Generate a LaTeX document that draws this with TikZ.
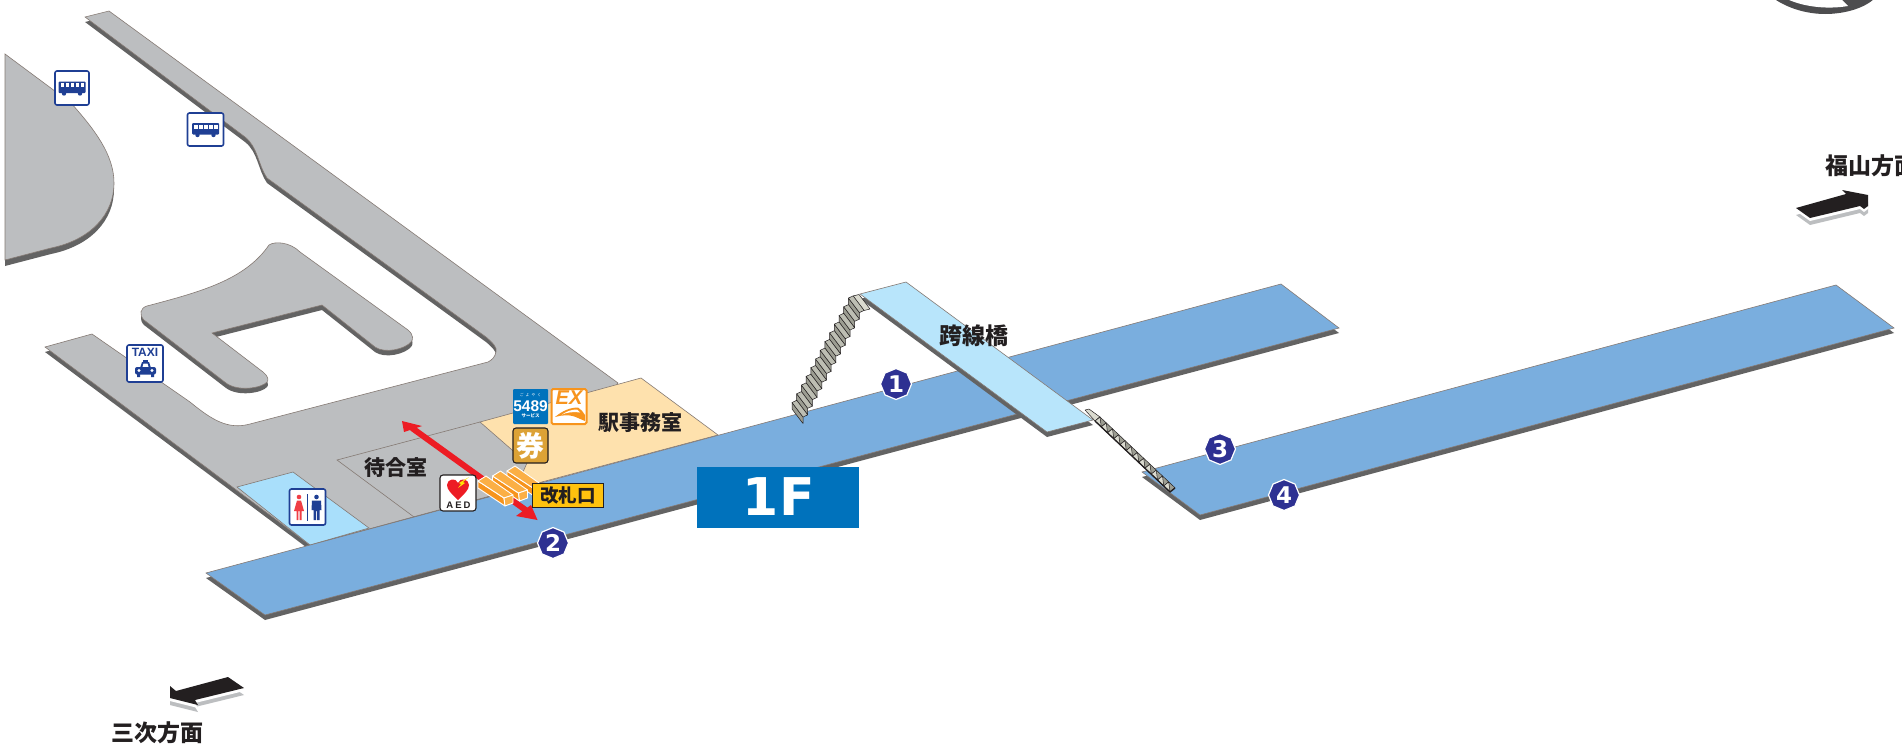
\documentclass[tikz,border=0pt]{standalone}
\usepackage{fontspec}
\usetikzlibrary{shapes.geometric}
\setmainfont{Liberation Sans}
\newfontfamily\cjk{Noto Sans CJK JP}
\newfontfamily\dejavu{DejaVu Sans}
\newcommand\pxsize[1]{\fontsize{#1}{#1}\selectfont}
\definecolor{platblue}{HTML}{7AAEDE}
\definecolor{roadgray}{HTML}{BCBEC0}
\definecolor{shade}{HTML}{636363}
\definecolor{edgeline}{HTML}{857A74}
\definecolor{office}{HTML}{FEE1AD}
\definecolor{bridge}{HTML}{B8E5FB}
\definecolor{wc}{HTML}{A9DFFB}
\definecolor{navy}{HTML}{2E3192}
\definecolor{signblue}{HTML}{1F3F94}
\definecolor{boxblue}{HTML}{0072BC}
\definecolor{arrowred}{HTML}{ED1C24}
\definecolor{exorange}{HTML}{F7941D}
\definecolor{ticket}{HTML}{DCA236}
\definecolor{gateyellow}{HTML}{FFC20E}
\definecolor{gatetop}{HTML}{FBAF45}
\definecolor{inkblack}{HTML}{231F20}
\definecolor{ringgray}{HTML}{4D4D4F}
\definecolor{stairrise}{HTML}{9C9D92}
\definecolor{stairtread}{HTML}{BDBEB3}
\definecolor{stairtop}{HTML}{DADACF}
\tikzset{
  flat/.style={draw=edgeline,line width=0.6pt},
  shadefill/.style={fill=shade},
  stairline/.style={draw=inkblack,line width=0.5pt,line join=round},
  plabel/.style={inner sep=0pt,text=inkblack,font=\cjk\bfseries\pxsize{21}},
  badge/.style={regular polygon,regular polygon sides=8,shape border rotate=22.5,fill=navy,draw=white,line width=1.2pt,minimum size=31pt,inner sep=0pt,text=white,font=\dejavu\bfseries\pxsize{23}},
  signicon/.style={draw=signblue,line width=1.6pt,rounded corners=2pt,fill=white,inner sep=0pt},
  darkicon/.style={draw=inkblack,line width=1.1pt,rounded corners=3pt,inner sep=0pt},
  gatebar/.style={draw=white,line width=0.9pt,line join=round},
  pics/busglyph/.style={code={
    \fill[signblue,rounded corners=1pt] (-13.5,-6.5) rectangle (13.5,5);
    \foreach \k in {-11.5,-6.5,-1.5,3.5,8.5}{\fill[white] (\k,-5) rectangle (\k+3.8,-1);}
    \fill[signblue] (-8,5.5) circle (2.2pt) (8,5.5) circle (2.2pt);
  }}
}
\newcommand\mainroad{(85,17) -- (109,11) -- (618,383) -- (538,483) -- (310,545) -- (45,347) -- (92,334) -- (190,402) .. controls (212,420) and (228,430) .. (250,424) -- (488,362) .. controls (492,360) and (495,357) .. (496,352) .. controls (498,348) and (492,342) .. (486,337) -- (267,178) .. controls (258,165) and (258,147) .. (245,137) -- cycle}
\newcommand\islandpath{(147,306) .. controls (200,292) and (245,280) .. (269,245) .. controls (275,241) and (290,242) .. (300,252) -- (408,330) .. controls (414,335) and (413,340) .. (411,342) .. controls (405,349) and (385,354) .. (375,347) -- (322,305) -- (212,333) -- (263,372) .. controls (268,376) and (269,380) .. (267,382) .. controls (262,388) and (238,392) .. (226,383) -- (144,320) .. controls (139,315) and (140,308) .. (147,306) -- cycle}
\newcommand\busstop{(5,54) -- (71,103) .. controls (95,130) and (114,155) .. (114,183) .. controls (114,215) and (90,240) .. (51,248) -- (5,260) -- cycle}
\newcommand\platA{(206,573) -- (1281,284) -- (1339,328) -- (265,615) -- cycle}
\newcommand\platB{(1142,472) -- (1836,285) -- (1894,328) -- (1200,515) -- cycle}
\newcommand\bridgepath{(860,294) -- (906,282) -- (1093,420) -- (1047,432) -- cycle}
\newcommand\arrowdown{(228,677) -- (244,688) -- (195,700) -- (198,705) -- (170,698) -- (170,686) -- (176,691) -- cycle}
\newcommand\arrowup{(1796,208) -- (1846,194) -- (1842,190) -- (1868,195) -- (1868,206) -- (1864,209) -- (1860,206) -- (1810,218) -- cycle}
\begin{document}
\begin{tikzpicture}[x=1pt,y=-1pt]
\clip (0,0) rectangle (1902,744);
\fill[white] (0,0) rectangle (1902,744);
% ring at top
\fill[ringgray] (1773,-2) .. controls (1790,10) and (1810,14) .. (1825,14) .. controls (1845,14) and (1865,8) .. (1875,-2) -- cycle;
\fill[white] (1785,-2) .. controls (1800,6) and (1825,10) .. (1848,6) -- (1840,-2) -- cycle;
% bus-stop island
\fill[shadefill,shift={(0,6)}] \busstop;
\path[flat,fill=roadgray] \busstop;
% main road
\fill[shadefill,shift={(0,5)}] \mainroad;
\path[flat,fill=roadgray] \mainroad;
\fill[shadefill,shift={(0,5)}] \islandpath;
\path[flat,fill=roadgray] \islandpath;
% toilet floor
\path[flat,fill=wc] (237,487) -- (293,472) -- (369,528) -- (310,545) -- cycle;
% waiting room lines
\coordinate (wa) at (337,460);
\coordinate (wb) at (480,422);
\coordinate (wc) at (414,517);
\draw[flat] (wb) -- (wa) -- (wc);
% office
\path[flat,fill=office] (480,422) -- (641,378) -- (718,435) -- (538,483) -- (523,472) -- (527,463) -- cycle;
% platforms
\fill[shadefill,shift={(0,5)}] \platA;
\path[flat,fill=platblue] \platA;
\fill[shadefill,shift={(0,5)}] \platB;
\path[flat,fill=platblue] \platB;
% bridge
\fill[shadefill,shift={(0,5)}] \bridgepath;
\path[flat,fill=bridge] \bridgepath;
% left stairs
\draw[stairline,fill=stairtop] (853,296) -- (859,294.5) -- (870,309) -- (864,310.5) -- cycle;
\foreach \i in {12,...,0}{
  \pgfmathsetmacro\px{792+4.7*\i}
  \pgfmathsetmacro\py{409-8.7*\i}
  \draw[stairline,fill=stairrise] (\px,\py) -- ++(0,-6.5) -- ++(11,14.5) -- ++(0,6.5) -- cycle;
  \draw[stairline,fill=stairtread] (\px,\py-6.5) -- (\px+4.7,\py-8.7) -- ++(11,14.5) -- (\px+11,\py+8) -- cycle;
}
% right stairs
\draw[stairline,fill=stairtop] (1085,410) -- (1089,409) -- (1100,417) -- (1095,421) -- cycle;
\foreach \i in {0,...,11}{
  \pgfmathsetmacro\qx{1095+6.25*\i}
  \pgfmathsetmacro\qy{421+5.9*\i}
  \draw[stairline,fill=stairrise] (\qx,\qy) -- (\qx+5,\qy-4) -- (\qx+11.25,\qy+1.9) -- (\qx+6.25,\qy+5.9) -- cycle;
  \draw[stairline,fill=stairtop] (\qx,\qy) -- (\qx+5,\qy-4) -- (\qx+6.25,\qy+5.9) -- cycle;
}
\draw[inkblack,line width=1.3pt] (1095,421) -- (1170,492) -- (1175,488);
% red arrow
\coordinate (redA) at (412,428);
\coordinate (redB) at (527,511);
\draw[arrowred,line width=6pt] (redA) -- (redB);
\fill[arrowred] (402,421) -- (422,426) -- (404,432) -- cycle;
\fill[arrowred] (537.5,520) -- (516,516) -- (531,505) -- cycle;
% gates
\foreach \dx/\dy in {29/-10,14.5/-5,0/0}{
  \begin{scope}[shift={(\dx,\dy)}]
    \path[gatebar,fill=exorange] (478,481) -- (504,498) -- (505,506) -- (478,488) -- cycle;
    \path[gatebar,fill=gatetop] (478,481) -- (486,476) -- (513,495) -- (504,498) -- cycle;
    \path[gatebar,fill=gatetop] (504,498) -- (513,495) -- (513,503) -- (505,506) -- cycle;
  \end{scope}
}
% badges
\node[badge] (b1) at (896,384) {1};
\node[badge] (b2) at (553,543) {2};
\node[badge] (b3) at (1220,449) {3};
\node[badge] (b4) at (1284,495) {4};
% 1F
\node[fill=boxblue,minimum width=162pt,minimum height=61pt,inner sep=0pt] (floor) at (778,497.5) {};
\node[inner sep=0pt,text=white,font=\dejavu\bfseries\pxsize{52}] (floortxt) at (779,497) {1\hspace{1pt}F};
% labels
\node[plabel,font=\cjk\bfseries\pxsize{23}] (lbridge) at (973.5,336) {跨線橋};
\node[plabel] (lwait) at (396,468) {待合室};
\node[plabel] (loffice) at (640,423) {駅事務室};
% direction arrows
\fill[fill=roadgray,shift={(0,7)}] \arrowdown;
\fill[white,shift={(0,3)}] \arrowdown;
\fill[inkblack] \arrowdown;
\fill[fill=roadgray,shift={(0,7)}] \arrowup;
\fill[white,shift={(0,3)}] \arrowup;
\fill[inkblack] \arrowup;
\node[plabel,font=\cjk\bfseries\pxsize{23},anchor=west] (lsouth) at (111,733) {三次方面};
\node[plabel,font=\cjk\bfseries\pxsize{23},anchor=west] (lnorth) at (1825,166) {福山方面};
% bus signs
\node[signicon,minimum width=34pt,minimum height=34pt] (bus1) at (72,88) {};
\pic at (72,88) {busglyph};
\node[signicon,minimum width=36pt,minimum height=33pt] (bus2) at (205.5,129.5) {};
\pic at (205.5,129.5) {busglyph};
% taxi sign
\node[signicon,minimum width=36pt,minimum height=37pt] (taxi) at (145,363.5) {};
\node[inner sep=0pt,text=signblue,font=\bfseries\pxsize{12}] (taxitxt) at (145,352.5) {TAXI};
\fill[signblue] (143,359.5) rectangle (148,362);
\fill[signblue] (140,368) -- (142,362) -- (149,362) -- (151,368) -- cycle;
\fill[white] (142.5,367) -- (143.5,363.5) -- (147.5,363.5) -- (148.5,367) -- cycle;
\fill[signblue,rounded corners=2pt] (135,367) rectangle (156,374.5);
\fill[signblue] (137,373) rectangle (140,377) (151,373) rectangle (154,377);
\fill[white] (139,370.5) circle (1.6pt) (152,370.5) circle (1.6pt);
% toilet sign
\node[signicon,minimum width=36pt,minimum height=36pt] (toilet) at (307.5,507) {};
\draw[signblue,line width=1pt] (307.5,494) -- (307.5,521);
\fill[arrowred!85!white] (299,497) circle (2.3pt);
\fill[arrowred!85!white] (297,500.5) -- (301,500.5) -- (304,511) -- (301.5,511) -- (301.5,520) -- (299.6,520) -- (299.6,511) -- (298.4,511) -- (298.4,520) -- (296.5,520) -- (296.5,511) -- (294,511) -- cycle;
\fill[signblue] (316.5,497) circle (2.3pt);
\fill[signblue] (312,500.5) -- (321,500.5) -- (321.5,510) -- (319.5,510) -- (319.5,520) -- (317,520) -- (317,511) -- (316,511) -- (316,520) -- (313.5,520) -- (313.5,510) -- (311.5,510) -- cycle;
% AED
\node[darkicon,fill=white,minimum width=36pt,minimum height=36pt] (aed) at (458,493) {};
\fill[arrowred] (458,500) .. controls (452,494) and (447,490) .. (447,485) .. controls (447,479) and (456,477) .. (458,483) .. controls (460,477) and (469,479) .. (469,485) .. controls (469,490) and (464,494) .. (458,500) -- cycle;
\fill[yellow!85!orange] (469,477) -- (463,482) -- (465,483) -- (458,488) -- (461,484) -- (459,483) -- cycle;
\node[inner sep=0pt,text=inkblack,font=\bfseries\pxsize{9.5}] (aedtxt) at (458.5,505) {A\hspace{2pt}E\hspace{2pt}D};
% 5489
\node[fill=boxblue,rounded corners=1pt,minimum width=35pt,minimum height=35pt,inner sep=0pt] (yoyaku) at (530.5,406.5) {};
\node[inner sep=0pt,text=white,font=\bfseries\pxsize{15.5}] (num5489) at (530.5,406.5) {5489};
\node[inner sep=0pt,text=white,font=\cjk\pxsize{3.8}] (yo1) at (530.5,395) {ご\hspace{2pt}よ\hspace{2pt}や\hspace{2pt}く};
\node[inner sep=0pt,text=white,font=\cjk\bfseries\pxsize{4.5}] (yo2) at (530.5,416) {サービス};
% EX
\node[draw=exorange,line width=2pt,rounded corners=1.5pt,fill=white,minimum width=35pt,minimum height=35pt,inner sep=0pt] (ex) at (569,406.5) {};
\node[inner sep=0pt,text=exorange,font=\bfseries\itshape\pxsize{20}] (extxt) at (569,398) {EX};
\fill[exorange] (555,417) .. controls (562,411) and (570,407.5) .. (578,407.5) .. controls (581,409) and (583,412) .. (585,415) -- (585,421) -- (578,418) .. controls (570,414) and (562,415) .. (555,417) -- cycle;
\fill[white] (562,414.5) .. controls (567,411) and (572,409.5) .. (577,409.5) -- (580,412.5) .. controls (572,411.5) and (567,412.5) .. (562,414.5) -- cycle;
% ticket
\node[darkicon,fill=ticket,minimum width=35pt,minimum height=35pt,text=white,font=\cjk\bfseries\pxsize{28}] (ken) at (530.5,445.5) {券};
% gate label
\node[draw=inkblack,line width=1pt,fill=gateyellow,minimum width=71pt,minimum height=24pt,inner sep=0pt,text=inkblack,font=\cjk\bfseries\pxsize{18.5}] (gate) at (568,495.5) {改札口};
\end{tikzpicture}
\end{document}
